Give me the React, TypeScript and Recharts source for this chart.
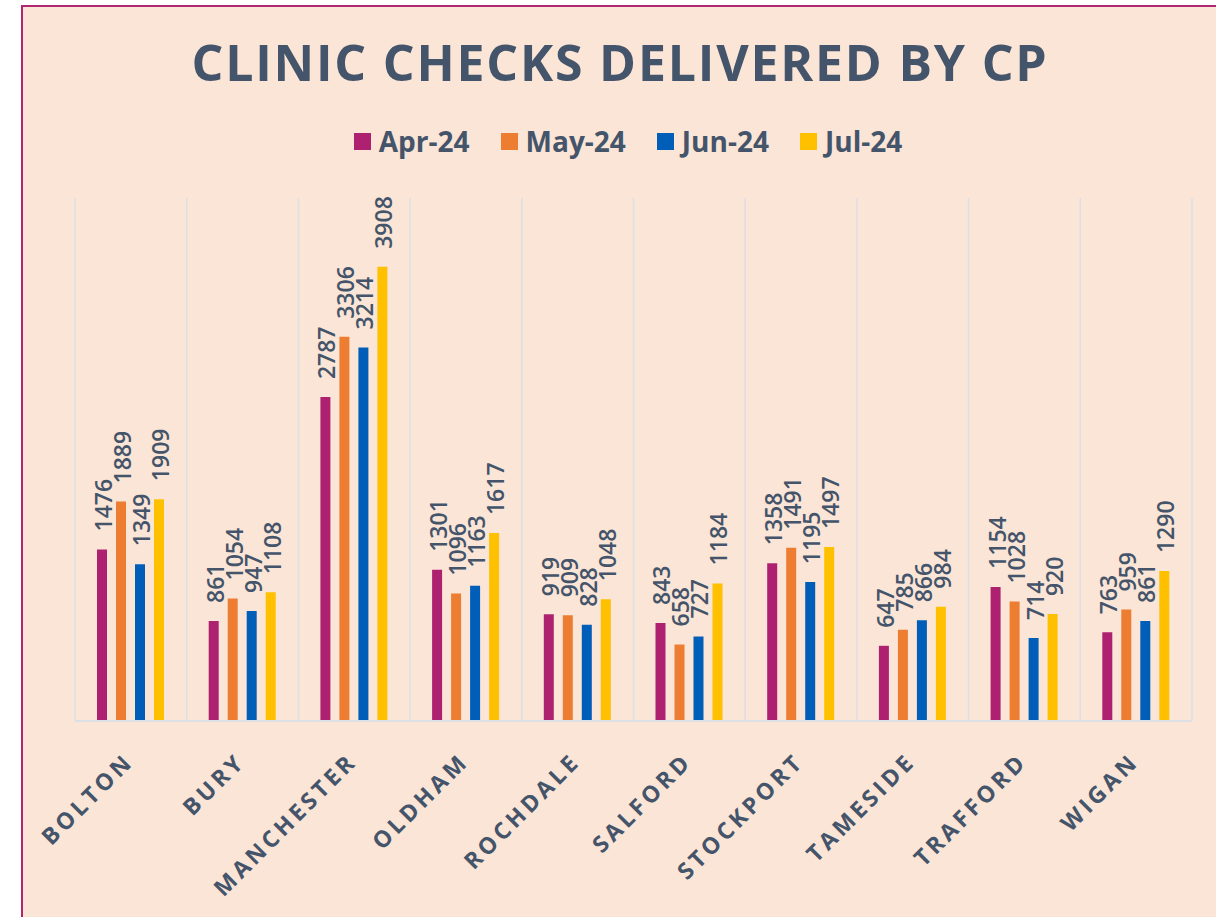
import { BarChart, Bar, XAxis, YAxis, CartesianGrid, LabelList } from "recharts";

const BG = "#FBE5D6";
const FRAME = "#B0266F";
const TEXT = "#44546A";
const GRID = "#DCDFE6";

const categories = [
  "BOLTON",
  "BURY",
  "MANCHESTER",
  "OLDHAM",
  "ROCHDALE",
  "SALFORD",
  "STOCKPORT",
  "TAMESIDE",
  "TRAFFORD",
  "WIGAN",
];

const apr24 = [1476, 861, 2787, 1301, 919, 843, 1358, 647, 1154, 763];
const may24 = [1889, 1054, 3306, 1096, 909, 658, 1491, 785, 1028, 959];
const jun24 = [1349, 947, 3214, 1163, 828, 727, 1195, 866, 714, 861];
const jul24 = [1909, 1108, 3908, 1617, 1048, 1184, 1497, 984, 920, 1290];

const series = [
  { key: "apr", name: "Apr-24", color: "#AE2170", values: apr24 },
  { key: "may", name: "May-24", color: "#ED7D31", values: may24 },
  { key: "jun", name: "Jun-24", color: "#005EB8", values: jun24 },
  { key: "jul", name: "Jul-24", color: "#FFC000", values: jul24 },
];

const data = categories.map((name, i) => {
  const row: Record<string, string | number> = { name };
  series.forEach((s) => (row[s.key] = s.values[i]));
  return row;
});

const FONT = "'Open Sans', 'DejaVu Sans', sans-serif";

function ValueLabel(props: any) {
  const { x, y, width, value } = props;
  const cx = x + width / 2 + 1;
  const cy = y - 18;
  return (
    <text
      x={cx}
      y={cy}
      transform={`rotate(-90, ${cx}, ${cy})`}
      textAnchor="start"
      dominantBaseline="central"
      fill={TEXT}
      fontSize={23}
      fontWeight={600}
      fontFamily={FONT}
    >
      {value}
    </text>
  );
}

function CategoryTick(props: any) {
  const { x, y, payload } = props;
  const ax = x + 4;
  const ay = y + 34;
  return (
    <text
      x={ax}
      y={ay}
      transform={`rotate(-45, ${ax}, ${ay})`}
      textAnchor="end"
      fill={TEXT}
      fontSize={23}
      fontWeight="bold"
      fontFamily={FONT}
      letterSpacing={3.5}
    >
      {payload.value}
    </text>
  );
}

function Legend() {
  return (
    <div
      style={{
        position: "absolute",
        top: 122,
        left: 0,
        width: 1216,
        display: "flex",
        justifyContent: "center",
        gap: 31,
        paddingLeft: 40,
        boxSizing: "border-box",
      }}
    >
      {series.map((s) => (
        <div key={s.key} style={{ display: "flex", alignItems: "center", gap: 8 }}>
          <span style={{ width: 17, height: 17, background: s.color, display: "inline-block" }} />
          <span
            style={{
              fontFamily: FONT,
              fontWeight: "bold",
              fontSize: 28,
              color: TEXT,
              lineHeight: "38px",
            }}
          >
            {s.name}
          </span>
        </div>
      ))}
    </div>
  );
}

export default function App() {
  return (
    <div
      style={{
        position: "fixed",
        left: 0,
        top: 0,
        width: 1216,
        height: 917,
        overflow: "hidden",
        background: "#fff",
      }}
    >
      <div
        style={{
          position: "absolute",
          left: 21,
          top: 5,
          width: 1300,
          height: 1000,
          border: `2px solid ${FRAME}`,
          background: BG,
        }}
      />
      <div
        style={{
          position: "absolute",
          top: 28,
          left: 0,
          width: 1216,
          textAlign: "center",
          paddingLeft: 24,
          boxSizing: "border-box",
          fontFamily: FONT,
          fontWeight: "bold",
          fontSize: 50,
          letterSpacing: 1.8,
          color: TEXT,
          lineHeight: "68px",
        }}
      >
        CLINIC CHECKS DELIVERED BY CP
      </div>
      <Legend />
      <div style={{ position: "absolute", left: 0, top: 0 }}>
        <BarChart
          width={1216}
          height={917}
          data={data}
          margin={{ top: 198, right: 24, bottom: 46, left: 75 }}
          barSize={10}
          barGap={9}
        >
          <CartesianGrid
            horizontal={false}
            stroke={GRID}
            strokeWidth={1.5}
            verticalCoordinatesGenerator={({ offset }: any) =>
              Array.from({ length: categories.length + 1 }, (_, i) =>
                offset.left + (i * offset.width) / categories.length
              )
            }
          />
          <XAxis
            dataKey="name"
            height={150}
            interval={0}
            tickLine={false}
            axisLine={{ stroke: GRID, strokeWidth: 2 }}
            tick={<CategoryTick />}
          />
          <YAxis hide domain={[0, 4500]} />
          {series.map((s) => (
            <Bar key={s.key} dataKey={s.key} name={s.name} fill={s.color} isAnimationActive={false}>
              <LabelList dataKey={s.key} content={<ValueLabel />} />
            </Bar>
          ))}
        </BarChart>
      </div>
    </div>
  );
}
